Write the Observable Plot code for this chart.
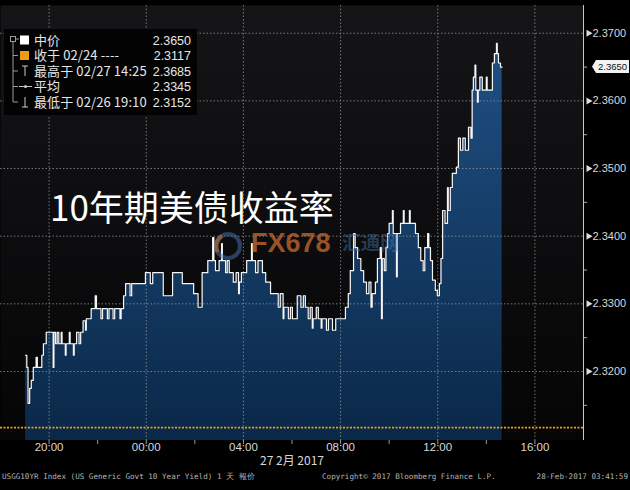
<!DOCTYPE html>
<html>
<head>
<meta charset="utf-8">
<script src="https://cdn.jsdelivr.net/npm/d3@7"></script>
<script src="https://cdn.jsdelivr.net/npm/@observablehq/plot@0.6"></script>
<style>
html,body{margin:0;padding:0;background:#000;}
#wrap{position:relative;width:630px;height:490px;overflow:hidden;background:#000;}
#wrap > svg{position:absolute;left:0;top:0;}
.ov{position:absolute;white-space:nowrap;}
#title{left:50px;top:188px;font:35px "Noto Sans CJK SC",sans-serif;color:#fff;line-height:1;}
.foot{position:absolute;top:472px;font:7.6px "DejaVu Sans Mono",monospace;color:#b4b4b4;white-space:nowrap;}
#wm1{left:251px;top:230px;font:bold 27px "Liberation Sans",Arial,sans-serif;color:rgba(200,105,45,0.75);line-height:1;}
#wm2{left:342px;top:232px;font:bold 19px "Noto Sans CJK SC",sans-serif;color:rgba(70,120,175,0.45);line-height:1;}
</style>
</head>
<body>
<div id="wrap"></div>
<script>
// ---- data ----
const times = ["19:02","19:05","19:08","19:12","19:16","19:21","19:28","19:31","19:42","19:46","19:53",
"20:10","20:12","20:16","20:20","20:24","20:30","20:32","20:40","20:42","20:50","20:52",
"21:00","21:02","21:08","21:14","21:18","21:24","21:30","21:32","21:44","21:54","21:57",
"22:08","22:12","22:24","22:28","22:38","22:42","22:55","22:58",
"23:04","23:09","23:20","23:24","23:58",
"00:10","00:16","00:42","01:05","01:29","01:57","02:08","02:18","02:32","02:44","02:47","02:51",
"03:00","03:06","03:08","03:16","03:20","03:25","03:35","03:42","03:48","03:50","03:55",
"04:08","04:20","04:22","04:30","04:36","04:47","04:55","05:07","05:26","05:31","05:38","05:40","05:51","05:56",
"06:01","06:13","06:22","06:28","06:33","06:40","06:45","06:50","06:52",
"07:00","07:05","07:12","07:14","07:25","07:30","07:40","07:48",
"08:12","08:19","08:24","08:32","08:36","08:42","08:50","08:57",
"09:04","09:10","09:15","09:18","09:26","09:31","09:38","09:41","09:43","09:48","09:52","09:56",
"10:00","10:08","10:10","10:18","10:20","10:28","10:35","10:37","10:50","10:52",
"11:05","11:12","11:18","11:24","11:28","11:35","11:38","11:42","11:47","11:54","11:59",
"12:04","12:08","12:12","12:18","12:24","12:26","12:31","12:36","12:46","12:51","12:56",
"13:02","13:08","13:16","13:22","13:25","13:28","13:32","13:34","13:38","13:40","13:44","13:50",
"14:00","14:02","14:15","14:20","14:25","14:27","14:30","14:35","14:39"];
const values = [2.3224,2.3206,2.3153,2.3175,2.3187,2.3206,2.3221,2.3206,2.3224,2.3241,2.3258,
2.3206,2.3258,2.3241,2.3258,2.3241,2.3258,2.3241,2.3224,2.3241,2.3258,2.3241,
2.3224,2.3241,2.3258,2.3241,2.3258,2.3275,2.3261,2.3278,2.3293,2.3312,2.3293,
2.3278,2.3293,2.3278,2.3293,2.3278,2.3293,2.3278,2.3293,
2.3312,2.3330,2.3312,2.3330,2.3346,
2.3330,2.3346,2.3312,2.3346,2.3330,2.3315,2.3295,2.3346,2.3364,2.3398,2.3364,2.3349,
2.3364,2.3389,2.3364,2.3346,2.3364,2.3346,2.3332,2.3346,2.3315,2.3332,2.3346,
2.3364,2.3389,2.3364,2.3346,2.3364,2.3346,2.3332,2.3315,2.3295,2.3315,2.3278,2.3295,2.3278,2.3295,
2.3278,2.3312,2.3295,2.3312,2.3295,2.3278,2.3295,2.3264,2.3278,
2.3295,2.3278,2.3264,2.3278,2.3261,2.3278,2.3261,2.3278,
2.3295,2.3315,2.3349,2.3404,2.3383,2.3367,2.3349,2.3332,
2.3315,2.3332,2.3295,2.3315,2.3332,2.3367,2.3383,2.3278,2.3367,2.3349,2.3383,2.3404,
2.3419,2.3438,2.3404,2.3340,2.3404,2.3419,2.3438,2.3419,2.3438,2.3419,
2.3404,2.3383,2.3364,2.3349,2.3383,2.3404,2.3383,2.3364,2.3335,2.3320,2.3312,
2.3330,2.3367,2.3438,2.3419,2.3472,2.3438,2.3472,2.3493,2.3502,2.3545,2.3527,
2.3545,2.3527,2.3561,2.3545,2.3616,2.3635,2.3653,2.3616,2.3598,2.3616,2.3635,2.3616,
2.3635,2.3616,2.3656,2.3670,2.3685,2.3670,2.3656,2.3650,2.3650];

const yTicks = [2.32, 2.33, 2.34, 2.35, 2.36, 2.37];
const yMinorTicks = [2.315, 2.325, 2.335, 2.345, 2.355, 2.365];
const xTickLabels = ["20:00", "00:00", "04:00", "08:00", "12:00", "16:00"];
const xMinorTickLabels = ["22:00", "02:00", "06:00", "10:00", "14:00"];
const dateLabel = "27 2月 2017";
const prevClose = 2.3117;
const lastValue = 2.3650;
const legendLabels = ["中价", "收于 02/24 ----", "最高于 02/27 14:25", "平均", "最低于 02/26 19:10"];
const legendValues = ["2.3650", "2.3117", "2.3685", "2.3345", "2.3152"];
const titleText = "10年期美债收益率";
const footLeft = "USGG10YR Index (US Generic Govt 10 Year Yield) 1 天  報价";
const footMid = "Copyright© 2017 Bloomberg Finance L.P.";
const footRight = "28-Feb-2017 03:41:59";

// ---- helpers ----
const parseT = s => { const [h, m] = s.split(":").map(Number); return new Date(Date.UTC(2017, 1, h >= 18 ? 26 : 27, h, m)); };
const T0 = new Date(Date.UTC(2017, 1, 26, 18, 0));
const T1 = new Date(Date.UTC(2017, 1, 27, 18, 0));
const data = times.map((t, i) => ({t: parseT(t), v: values[i]}));
const yDomain = [2.3098, 2.3741];
const xLabelData = xTickLabels.map(s => ({t: parseT(s), s}));
const xAllTicks = xTickLabels.concat(xMinorTickLabels).map(parseT);

function defsMark() {
  const d = d3.create("svg:defs");
  const bg = d.append("linearGradient").attr("id", "bgGrad").attr("x1", 0).attr("y1", 0).attr("x2", 0).attr("y2", 1);
  bg.append("stop").attr("offset", "0%").attr("stop-color", "#151518");
  bg.append("stop").attr("offset", "100%").attr("stop-color", "#050506");
  const ar = d.append("linearGradient").attr("id", "areaGrad").attr("x1", 0).attr("y1", 0).attr("x2", 0).attr("y2", 1);
  ar.append("stop").attr("offset", "0%").attr("stop-color", "#1f4f83");
  ar.append("stop").attr("offset", "100%").attr("stop-color", "#0a2848");
  return d.node();
}

function lastLabel(index, scales, values, dims) {
  const y = scales.y(lastValue);
  const x = dims.width - dims.marginRight;
  const g = d3.create("svg:g");
  g.append("path").attr("d", `M${x + 9},${y} L${x + 13},${y - 6.5} H${x + 46} V${y + 6.5} H${x + 13} Z`).attr("fill", "#f2f2f2");
  g.append("text").attr("x", x + 15).attr("y", y).attr("dy", "0.35em").attr("fill", "#111").attr("text-anchor", "start")
    .attr("font-size", 9.5).attr("font-family", "Liberation Sans, Arial, sans-serif").text(lastValue.toFixed(4));
  return g.node();
}

const chart = Plot.plot({
  width: 630, height: 490,
  marginLeft: 0, marginRight: 47, marginTop: 5, marginBottom: 50,
  style: {background: "transparent", color: "#d8d8d8", fontFamily: "Liberation Sans, Arial, sans-serif", fontSize: "11px"},
  x: {type: "utc", domain: [T0, T1], axis: null, label: null},
  y: {domain: yDomain, axis: null, label: null},
  marks: [
    defsMark,
    Plot.frame({fill: "url(#bgGrad)", stroke: null}),
    Plot.areaY(data, {x: "t", y1: () => yDomain[0], y2: "v", curve: "step-after", fill: "url(#areaGrad)"}),
    Plot.ruleY(yTicks, {stroke: "#9a9a9a", strokeOpacity: 0.75, strokeDasharray: "1.5,2"}),
    Plot.ruleX(xLabelData, {x: "t", stroke: "#9a9a9a", strokeOpacity: 0.75, strokeDasharray: "1.5,2"}),
    Plot.ruleY([prevClose], {stroke: "#eca21e", strokeWidth: 1.6, strokeDasharray: "2,1.5"}),
    Plot.line(data, {x: "t", y: "v", curve: "step-after", stroke: "#f6f6f6", strokeWidth: 1.2}),
    Plot.ruleX([T1], {stroke: "#c8c8c8", strokeWidth: 1}),
    Plot.axisY(yMinorTicks, {anchor: "right", tickSize: 3, tickFormat: () => "", stroke: "#aaa", label: null}),
    Plot.dot(yTicks, {y: d => d, frameAnchor: "right", dx: 5, symbol: "triangle", rotate: 90, r: 2.6, fill: "#dcdcdc"}),
    Plot.text(yTicks, {y: d => d, text: d => d.toFixed(4), frameAnchor: "right", dx: 9, textAnchor: "start", fill: "#d8d8d8", fontSize: 11}),
    lastLabel,
    Plot.axisX(xAllTicks, {anchor: "bottom", tickSize: 4, tickFormat: () => "", stroke: "#999", label: null}),
    Plot.text(xLabelData, {x: "t", text: "s", frameAnchor: "bottom", dy: 10, fill: "#d8d8d8", fontSize: 11.5}),
    Plot.text([dateLabel], {text: d => d, frameAnchor: "bottom", dy: 24, fill: "#d8d8d8", fontSize: 12, fontFamily: "Noto Sans CJK SC, sans-serif"})
  ]
});

const wrap = document.getElementById("wrap");
wrap.appendChild(chart);

// legend
const lg = d3.select(wrap).append("svg").attr("class", "ov").style("left", "4px").style("top", "29px")
  .attr("width", 193).attr("height", 86);
lg.append("rect").attr("width", 193).attr("height", 86).attr("fill", "#030303");
const rowY = i => 11 + i * 15.5;
const tree = "#9a9a9a";
lg.append("rect").attr("x", 6.5).attr("y", 7.5).attr("width", 5).attr("height", 5).attr("fill", "none").attr("stroke", tree);
lg.append("line").attr("x1", 9).attr("x2", 9).attr("y1", 12.5).attr("y2", rowY(4)).attr("stroke", tree);
lg.append("line").attr("x1", 11.5).attr("x2", 15).attr("y1", 10).attr("y2", 10).attr("stroke", tree);
for (let i = 1; i < 5; i++) lg.append("line").attr("x1", 9).attr("x2", 14).attr("y1", rowY(i)).attr("y2", rowY(i)).attr("stroke", tree);
lg.append("rect").attr("x", 16).attr("y", rowY(0) - 4.5).attr("width", 9).attr("height", 9).attr("fill", "#ffffff");
lg.append("rect").attr("x", 16).attr("y", rowY(1) - 4.5).attr("width", 9).attr("height", 9).attr("fill", "#f29a12");
const icon = "#c8c8c8";
lg.append("path").attr("d", `M18,${rowY(2) - 5}H24M21,${rowY(2) - 5}V${rowY(2) + 5}`).attr("stroke", icon).attr("fill", "none");
lg.append("path").attr("d", `M15,${rowY(3)}H28`).attr("stroke", icon).attr("fill", "none");
lg.append("circle").attr("cx", 21.5).attr("cy", rowY(3)).attr("r", 1.6).attr("fill", icon);
lg.append("path").attr("d", `M18,${rowY(4) + 5}H24M21,${rowY(4) - 5}V${rowY(4) + 5}`).attr("stroke", icon).attr("fill", "none");
legendLabels.forEach((s, i) => {
  lg.append("text").attr("x", 30).attr("y", rowY(i)).attr("dy", "0.36em").attr("fill", "#e6e6e6")
    .attr("font-size", 13).attr("letter-spacing", 0.1).attr("font-family", "Noto Sans CJK SC, sans-serif").text(s);
  lg.append("text").attr("x", 187).attr("y", rowY(i)).attr("dy", "0.36em").attr("fill", "#e6e6e6").attr("text-anchor", "end")
    .attr("font-size", 12.5).attr("font-family", "Liberation Sans, Arial, sans-serif").text(legendValues[i]);
});

// title + watermark + footer
const addDiv = (id, cls, text, css) => { const el = document.createElement("div"); if (id) el.id = id; el.className = cls; el.textContent = text; if (css) Object.assign(el.style, css); wrap.appendChild(el); return el; };
addDiv("wm1", "ov", "FX678");
addDiv("wm2", "ov", "汇通网");
const logo = d3.select(wrap).append("svg").attr("class", "ov").style("left", "212px").style("top", "230px").attr("width", 32).attr("height", 32);
logo.append("circle").attr("cx", 16).attr("cy", 16).attr("r", 12).attr("fill", "none").attr("stroke", "rgba(70,120,180,0.5)").attr("stroke-width", 4);
logo.append("path").attr("d", "M6,22 A12,12 0 0 1 10,6").attr("fill", "none").attr("stroke", "rgba(200,105,45,0.6)").attr("stroke-width", 4);
addDiv("title", "ov", titleText);
addDiv(null, "foot", footLeft, {left: "2px"});
addDiv(null, "foot", footMid, {left: "322px"});
addDiv(null, "foot", footRight, {right: "2px"});
</script>
</body>
</html>
